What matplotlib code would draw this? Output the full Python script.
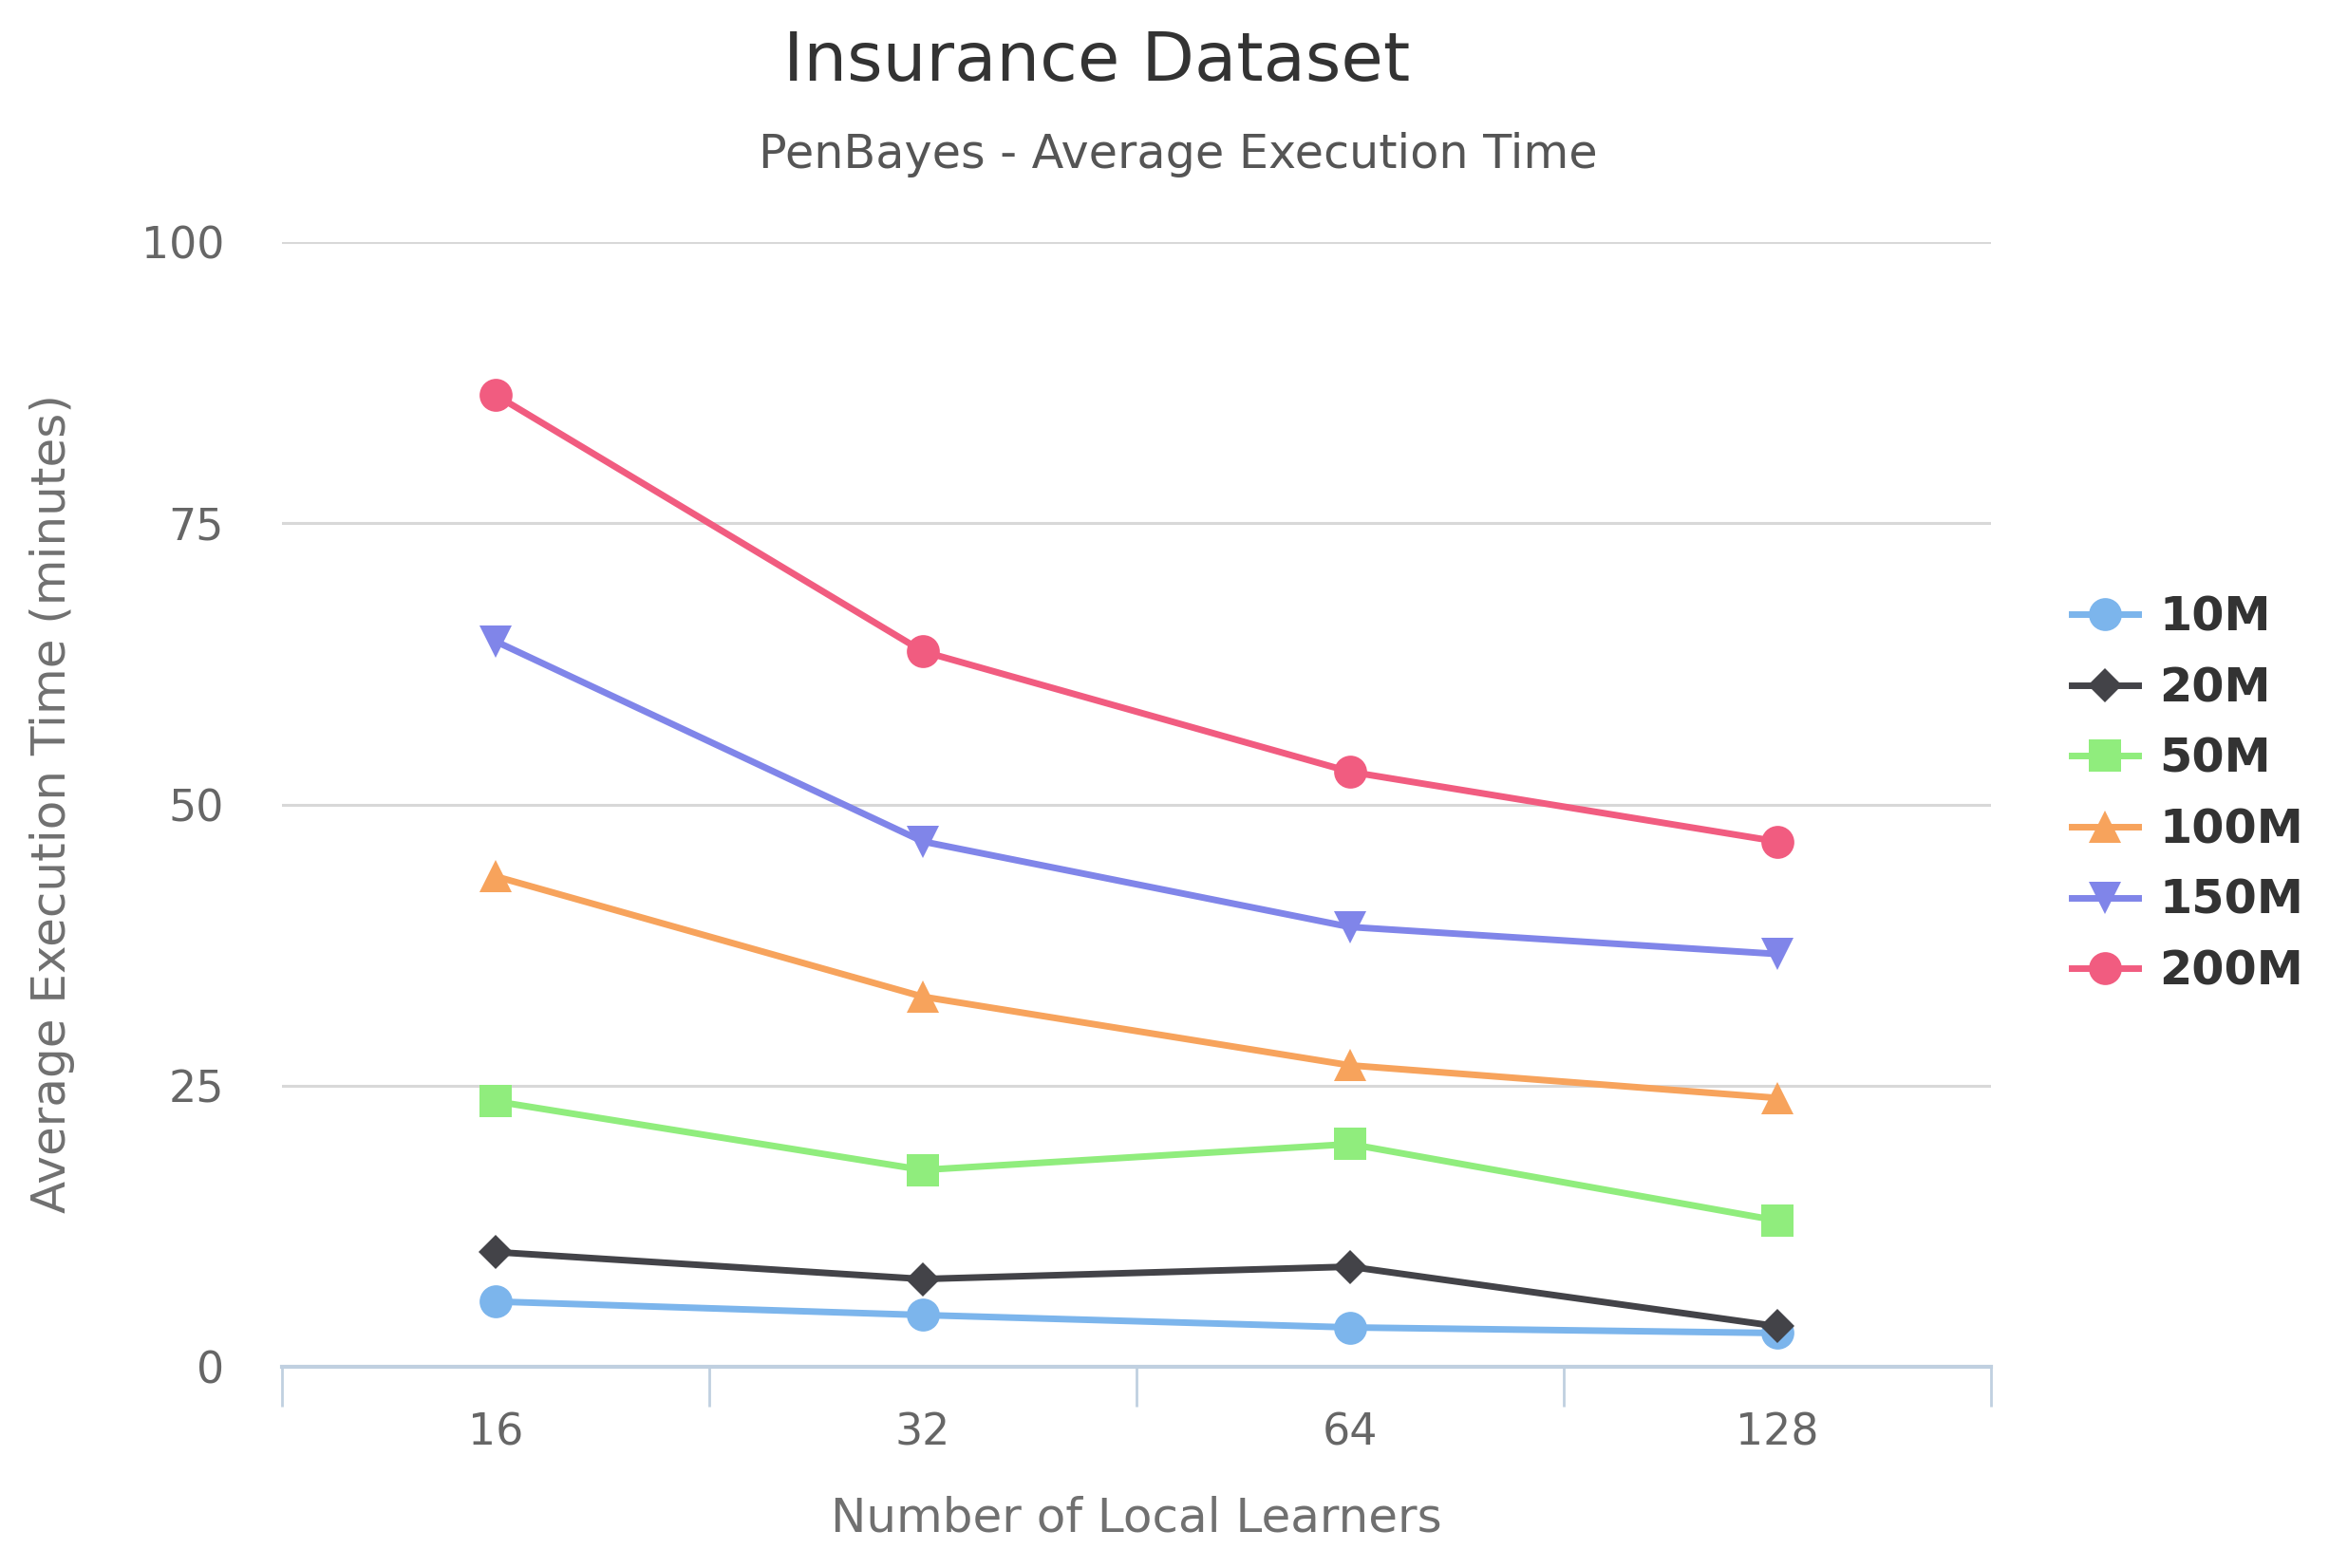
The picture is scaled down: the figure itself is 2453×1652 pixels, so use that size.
import matplotlib
matplotlib.use("Agg")
import matplotlib.pyplot as plt

# Data
learners = ["16", "32", "64", "128"]
series_names = ["10M", "20M", "50M", "100M", "150M", "200M"]
t_10m = [5.8, 4.6, 3.5, 3.0]
t_20m = [10.2, 7.8, 8.9, 3.6]
t_50m = [23.6, 17.5, 19.8, 13.0]
t_100m = [43.6, 32.9, 26.8, 23.9]
t_150m = [64.5, 46.7, 39.1, 36.7]
t_200m = [86.4, 63.6, 52.9, 46.7]
y_ticks = [0, 25, 50, 75, 100]

values = [t_10m, t_20m, t_50m, t_100m, t_150m, t_200m]
colors = ["#7cb5ec", "#434348", "#90ed7d", "#f7a35c", "#8085e9", "#f15c80"]
markers = ["o", "D", "s", "^", "v", "o"]
msizes = [25, 18, 24, 25, 25, 25]

W, H = 2453, 1652
fig = plt.figure(figsize=(W / 100, H / 100), dpi=100)
plt.rcParams['font.family'] = ['DejaVu Sans']

ax = fig.add_axes([297 / W, 1 - 1440 / H, 1800 / W, 1185 / H])

x = list(range(len(learners)))
for i, name in enumerate(series_names):
    ax.plot(x, values[i], color=colors[i], lw=5, marker=markers[i],
            markersize=msizes[i], markeredgewidth=0, label=name, zorder=3 + i,
            clip_on=False)

ax.set_xlim(-0.5, len(learners) - 0.5)
ax.set_ylim(0, 100)

# gridlines
ax.set_yticks(y_ticks)
ax.yaxis.grid(True, color="#d8d8d8", lw=2.2)
ax.set_axisbelow(True)
ax.tick_params(axis="y", length=0, pad=44, labelsize=33, labelcolor="#666666")

# x axis: ticks on category boundaries, labels at centers
ax.set_xticks([i - 0.5 for i in range(len(learners) + 1)])
ax.set_xticklabels([])
ax.set_xticks(x, minor=True)
ax.set_xticklabels(learners, minor=True)
ax.tick_params(axis="x", which="major", length=30, width=2, color="#c0d0e0",
               direction="out")
ax.tick_params(axis="x", which="minor", length=0, pad=34, labelsize=33,
               labelcolor="#666666")

for s in ["top", "right", "left"]:
    ax.spines[s].set_visible(False)
ax.spines["bottom"].set_color("#c0d0e0")
ax.spines["bottom"].set_linewidth(3)
ax.spines["bottom"].set_zorder(2)

fig.text(1155 / W, 1 - 66 / H, "Insurance Dataset", ha="center", va="center",
         fontsize=52, color="#333333")
fig.text(1241 / W, 1 - 163 / H, "PenBayes - Average Execution Time",
         ha="center", va="center", fontsize=35.5, color="#555555")
fig.text(1197 / W, 1 - 1599 / H, "Number of Local Learners", ha="center",
         va="center", fontsize=36, color="#707070")
fig.text(55 / W, 1 - 847 / H, "Average Execution Time (minutes)", ha="center",
         va="center", rotation=90, fontsize=36, color="#707070")

leg = ax.legend(loc="center left", bbox_to_anchor=(2182 / W, 1 - 837 / H),
                bbox_transform=fig.transFigure, frameon=False, fontsize=35.5,
                handlelength=1.42, handletextpad=0.45, labelspacing=0.54,
                borderpad=0, borderaxespad=0, numpoints=1)
for t in leg.get_texts():
    t.set_fontweight("bold")
    t.set_color("#333333")

fig.savefig("out.png", dpi=100, facecolor="white")
